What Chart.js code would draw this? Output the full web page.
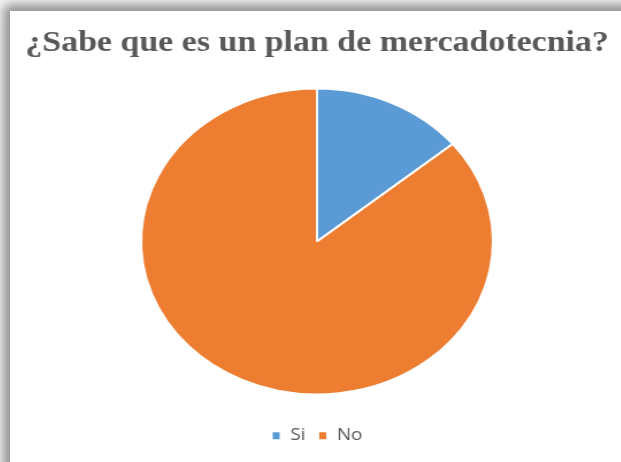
<!DOCTYPE html>
<html>
<head>
<meta charset="utf-8">
<script src="https://cdn.jsdelivr.net/npm/chart.js@4"></script>
<style>
  body { margin: 0; width: 621px; height: 462px; overflow: hidden; background: #fff; position: relative; }
  #frame {
    position: absolute; left: 10px; top: 11px; width: 660px; height: 500px;
    background: #fff;
    box-shadow: -4px -4px 12px 3px rgba(0,0,0,0.45);
  }
  /* chart is drawn narrower and stretched sideways, so the pie comes out oval */
  #box {
    position: absolute; left: 0; top: 0; width: 531px; height: 451px;
    transform: scaleX(1.15); transform-origin: 0 0;
  }
</style>
</head>
<body>
<div id="frame">
  <div id="box"><canvas id="pie-chart"></canvas></div>
</div>
<script>
const answers = ["Si", "No"];             // legend labels
const answerCounts = [14, 86];            // share of answers, %
const sliceColors = ["#5B9BD5", "#ED7D31"];

new Chart("pie-chart", {
  type: "pie",
  data: {
    labels: answers,
    datasets: [{
      data: answerCounts,
      backgroundColor: sliceColors,
      borderColor: "#fff",
      borderWidth: 2
    }]
  },
  options: {
    responsive: true,
    maintainAspectRatio: false,
    animation: false,
    radius: 153,
    layout: { padding: { left: 3, bottom: 8 } },
    plugins: {
      title: {
        display: true,
        text: "¿Sabe que es un plan de mercadotecnia?",
        color: "#595959",
        font: { family: "Liberation Serif", size: 29.5, weight: "bold" },
        padding: { top: 15, bottom: 5 }
      },
      legend: {
        position: "bottom",
        labels: {
          color: "#595959",
          font: { family: "Open Sans", size: 16.5 },
          boxWidth: 8,
          boxHeight: 9,
          padding: 11
        }
      },
      tooltip: { enabled: false }
    }
  }
});
</script>
</body>
</html>
